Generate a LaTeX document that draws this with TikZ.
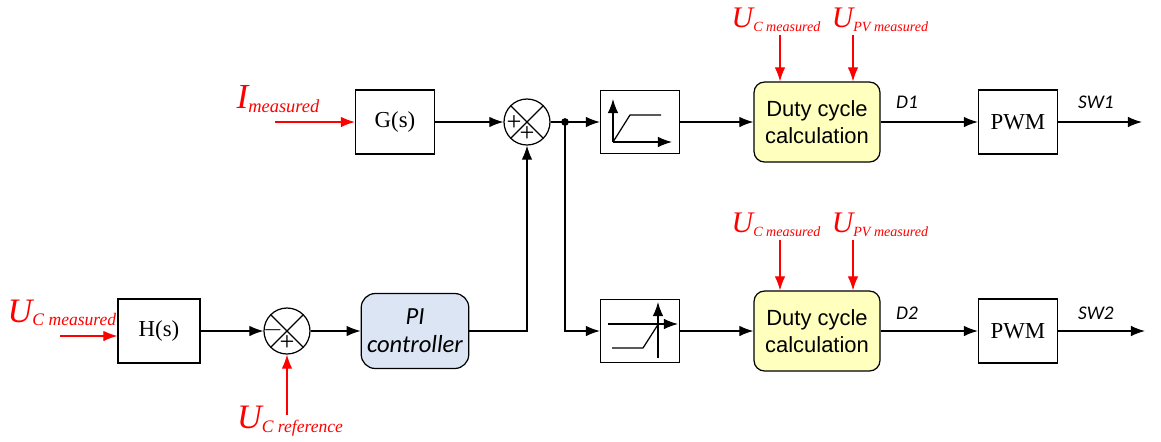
\documentclass[tikz,border=0pt]{standalone}
\usepackage{fontspec}
\setmainfont{Liberation Serif}
\setsansfont{Liberation Sans}
\newfontfamily\calib{Carlito}
\usetikzlibrary{arrows.meta, calc}
\definecolor{piblue}{RGB}{219,229,243}
\definecolor{dutyyellow}{RGB}{255,255,190}
\newcommand\sigtxt[4]{{\fontsize{#1}{#1}\selectfont\itshape #3}\raisebox{-2pt}{\fontsize{#2}{#2}\selectfont\itshape #4}}
\tikzset{
    every picture/.style={line width=0.7pt, >={Latex[length=8pt,width=6pt]}},
    block/.style={draw, minimum width=1.58cm, minimum height=1.28cm, font=\fontsize{13}{13}\selectfont},
    duty/.style={draw, rounded corners=6pt, fill=dutyyellow, minimum width=2.52cm, minimum height=1.6cm,
        align=center, font=\sffamily\fontsize{12.5}{15}\selectfont},
    sumnode/.style={draw, circle, minimum size=0.92cm, inner sep=0pt,
        path picture={
            \draw ([shift={(-1cm,1cm)}]path picture bounding box.center) -- ([shift={(1cm,-1cm)}]path picture bounding box.center);
            \draw ([shift={(1cm,1cm)}]path picture bounding box.center) -- ([shift={(-1cm,-1cm)}]path picture bounding box.center);
        }},
    sgn/.style={font=\fontsize{15}{15}\selectfont, inner sep=0pt},
    insig/.style={red, ->},
    lbl/.style={font=\calib\itshape\fontsize{11}{11}\selectfont}
}

\begin{document}
\begin{tikzpicture}[x=0.02cm, y=-0.02cm]
\useasboundingbox (0,0) rectangle (1161,441);

% blocks
\node[block, minimum width=1.64cm] (hs) at (159,331) {H(s)};
\node[sumnode] (sum2) at (287,331) {};
\node[draw, rounded corners=8pt, fill=piblue, minimum width=1.92cm, minimum height=1.5cm,
  align=center, font=\calib\itshape\fontsize{14}{16}\selectfont] (pi) at (415,331) {PI\\controller};
\node[block] (gs) at (395,122) {G(s)};
\node[sumnode] (sum1) at (527,122) {};
\node[block, minimum height=1.26cm] (sat1) at (640,122) {};
\node[block, minimum height=1.26cm] (sat2) at (640,331) {};
\node[duty] (duty1) at (817,122) {Duty cycle\\calculation};
\node[duty] (duty2) at (817,331) {Duty cycle\\calculation};
\node[block] (pwm1) at (1018,122) {PWM};
\node[block] (pwm2) at (1018,331) {PWM};

% signs in the summing points
\node[sgn] at ([shift={(-13,1)}]sum1.center) {+};
\node[sgn] at ([shift={(0,12)}]sum1.center) {+};
\node[sgn] at ([shift={(-14,-1)}]sum2.center) {$-$};
\node[sgn] at ([shift={(0,12)}]sum2.center) {+};

% limiter icons
\begin{scope}[shift={(sat1.center)}]
  \draw[->] (-27,20) -- (-27,-23);
  \draw[->] (-27,20) -- (32,20);
  \draw (-27,20) -- (-10,-7) -- (21,-7);
\end{scope}
\begin{scope}[shift={(sat2.center)}]
  \draw[->] (18,27) -- (18,-29);
  \draw[->] (-32,-7) -- (38,-7);
  \draw (-28,17) -- (3,17) -- (19,-8);
\end{scope}

% red inputs
\node[red] (ucm) at (62,313) {\sigtxt{19.5}{10}{U}{C measured}};
\coordinate (ucmin) at (60,336);
\draw[insig] (ucmin) -- (hs.west |- ucmin);
\node[red] (im) at (278,99) {\sigtxt{20}{10.5}{I}{measured}};
\coordinate (imin) at (275,122);
\draw[insig] (imin) -- (gs.west);
\node[red] (ucr) at (290,421) {\sigtxt{19.5}{10}{U}{C reference}};
\coordinate (ucrin) at (287,415);
\draw[insig] (ucrin) -- (sum2.south);

\foreach \d/\y in {1/20, 2/225}{
  \node[red] (uc\d) at (776,\y) {\sigtxt{17}{8}{U}{C measured}};
  \node[red] (upv\d) at (880,\y) {\sigtxt{17}{8}{U}{PV measured}};
  \coordinate (ucp\d) at (780,\y+15);
  \coordinate (upvp\d) at (853,\y+15);
  \draw[insig] (ucp\d) -- (ucp\d |- duty\d.north);
  \draw[insig] (upvp\d) -- (upvp\d |- duty\d.north);
}

% signal path
\draw[->] (hs) -- (sum2);
\draw[->] (sum2) -- (pi);
\draw[->] (pi.east) -| (sum1.south);
\draw[->] (gs) -- (sum1);
\coordinate (jn) at (565,122);
\draw[->] (sum1) -- (sat1);
\fill (jn) circle (2.2pt);
\draw[->] (jn) |- (sat2.west);
\draw[->] (sat1) -- (duty1);
\draw[->] (sat2) -- (duty2);
\draw[->] (duty1) -- (pwm1);
\draw[->] (duty2) -- (pwm2);
\coordinate (sw1) at (1142,122);
\coordinate (sw2) at (1145,331);
\draw[->] (pwm1) -- (sw1);
\draw[->] (pwm2) -- (sw2);

% labels on outputs
\node[lbl] (d1) at (907,102) {D1};
\node[lbl] (d2) at (907,313) {D2};
\node[lbl] (s1) at (1096,102) {SW1};
\node[lbl] (s2) at (1096,313) {SW2};
\end{tikzpicture}
\end{document}
